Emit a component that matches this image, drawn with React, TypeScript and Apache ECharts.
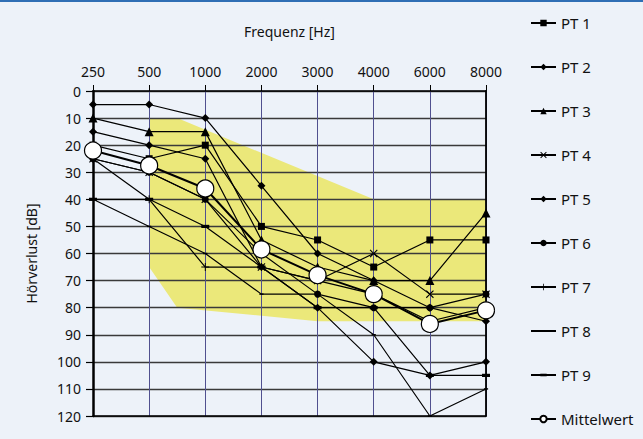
import React, { useEffect, useRef } from "react";
import * as echarts from "echarts";

const categories = ["250", "500", "1000", "2000", "3000", "4000", "6000", "8000"];

const pt1 = [20, 25, 20, 50, 55, 65, 55, 55];
const pt2 = [5, 5, 10, 35, 60, 70, 80, 85];
const pt3 = [10, 15, 15, 55, 65, 70, 70, 45];
const pt4 = [25, 30, 40, 65, 70, 60, 75, 75];
const pt5 = [15, 20, 25, 65, 80, 100, 105, 100];
const pt6 = [25, 30, 40, 60, 75, 80, 80, 75];
const pt7 = [25, 40, 65, 65, 70, 75, 85, 80];
const pt8 = [40, 50, 60, 75, 75, 90, 120, 110];
const pt9 = [40, 40, 50, 65, 80, 80, 105, 105];
const mittelwert = [22, 27.5, 36, 58.5, 68, 75, 86, 81];

// yellow range polygon (x = category index, y = dB)
const yellowTop = [[1, 10], [1.5, 10], [5, 40], [7, 40]];
const yellowBottom = [[7, 85], [4, 85], [1.5, 80], [1, 65]];

const crossPath = "path://M0,1L1,0L5,4L9,0L10,1L6,5L10,9L9,10L5,6L1,10L0,9L4,5Z";
const plusPath = "path://M4.4,0H5.6V4.4H10V5.6H5.6V10H4.4V5.6H0V4.4H4.4Z";
// square bounding box (extra moveTo points) so the dash keeps its shape in the legend too
const smallDash = "path://M0,0M10,10M1.5,3.8H8.5V6.2H1.5Z";
const thickDash = "path://M0,0M10,10M0,3H10V7H0Z";

const toPairs = (vals: number[]) => vals.map((v, i) => [i, v]);

const FONT = "'Noto Sans', 'Open Sans', sans-serif";

export default function App() {
  const ref = useRef<HTMLDivElement>(null);
  useEffect(() => {
    if (!ref.current) return;
    const chart = echarts.init(ref.current, undefined, { renderer: "svg" });

    const pts = [
      { name: "PT 1", data: pt1, symbol: "rect", symbolSize: 7 },
      { name: "PT 2", data: pt2, symbol: "diamond", symbolSize: 8 },
      { name: "PT 3", data: pt3, symbol: "triangle", symbolSize: 9 },
      { name: "PT 4", data: pt4, symbol: crossPath, symbolSize: 8 },
      { name: "PT 5", data: pt5, symbol: "diamond", symbolSize: 8 },
      { name: "PT 6", data: pt6, symbol: "circle", symbolSize: 7 },
      { name: "PT 7", data: pt7, symbol: plusPath, symbolSize: 8 },
      { name: "PT 8", data: pt8, symbol: smallDash, symbolSize: 6 },
      { name: "PT 9", data: pt9, symbol: thickDash, symbolSize: 8 },
    ];

    const lineSeries = pts.map((p) => ({
      type: "line",
      name: p.name,
      data: toPairs(p.data),
      symbol: p.symbol,
      symbolSize: p.symbolSize,
      showSymbol: true,
      lineStyle: { color: "#000", width: 1.2 },
      itemStyle: { color: "#000" },
      z: 3,
    }));

    const option: any = {
      animation: false,
      backgroundColor: "#edf2f9",
      textStyle: { fontFamily: FONT },
      graphic: [
        { type: "rect", shape: { x: 0, y: 0, width: 643, height: 2 }, style: { fill: "#2f6fb5" } },
      ],
      grid: { left: 93, right: 157, top: 91, bottom: 23, outerBoundsMode: "none", containLabel: false },
      legend: {
        orient: "vertical",
        left: 525,
        top: 10,
        itemWidth: 25,
        itemHeight: 8,
        itemGap: 28,
        textStyle: { fontFamily: FONT, fontSize: 15, color: "#111", lineHeight: 16 },
        data: [...pts.map((p) => p.name), "Mittelwert"],
      },
      xAxis: [
        {
          type: "value",
          position: "top",
          min: 0,
          max: 7,
          interval: 1,
          name: "Frequenz [Hz]",
          nameLocation: "middle",
          nameGap: 53,
          nameTextStyle: { fontFamily: FONT, fontSize: 14, color: "#111" },
          axisLine: { show: true, lineStyle: { color: "#000", width: 1.5 } },
          axisTick: { show: true, length: 6, lineStyle: { color: "#000", width: 1 } },
          axisLabel: {
            formatter: (v: number) => categories[v] ?? "",
            fontFamily: FONT,
            fontSize: 14,
            color: "#111",
            margin: 13,
          },
          splitLine: { show: true, lineStyle: { color: "#50508f", width: 1 } },
        },
        {
          type: "value",
          position: "bottom",
          min: 0,
          max: 7,
          interval: 1,
          axisLine: { show: true, onZero: false, lineStyle: { color: "#000", width: 1.5 } },
          axisTick: { show: false },
          axisLabel: { show: false },
          splitLine: { show: false },
        },
      ],
      yAxis: [
        {
          type: "value",
          inverse: true,
          min: 0,
          max: 120,
          interval: 10,
          name: "Hörverlust [dB]",
          nameLocation: "middle",
          nameGap: 55,
          nameRotate: 90,
          nameTextStyle: { fontFamily: FONT, fontSize: 14, color: "#111" },
          axisLine: { show: true, lineStyle: { color: "#000", width: 2.5 } },
          axisTick: { show: true, length: 7, lineStyle: { color: "#000", width: 1.2 } },
          axisLabel: { fontFamily: FONT, fontSize: 14, color: "#111", margin: 12 },
          splitLine: { show: true, lineStyle: { color: "#3a3a3a", width: 1.4 } },
        },
        {
          type: "value",
          position: "right",
          inverse: true,
          min: 0,
          max: 120,
          interval: 10,
          axisLine: { show: true, onZero: false, lineStyle: { color: "#000", width: 1.8 } },
          axisTick: { show: false },
          axisLabel: { show: false },
          splitLine: { show: false },
        },
      ],
      series: [
        {
          type: "custom",
          name: "Bereich",
          silent: true,
          z: -1,
          data: [[0, 0]],
          renderItem: (_params: any, api: any) => ({
            type: "polygon",
            shape: { points: [...yellowTop, ...yellowBottom].map((p) => api.coord(p)) },
            style: { fill: "#ebe87a" },
          }),
        },
        ...lineSeries,
        {
          type: "line",
          name: "Mittelwert",
          data: toPairs(mittelwert),
          symbol: "circle",
          symbolSize: 17,
          lineStyle: { color: "#000", width: 2 },
          itemStyle: { color: "#fff", borderColor: "#000", borderWidth: 1.2 },
          z: 5,
        },
      ],
    };
    chart.setOption(option);
    return () => chart.dispose();
  }, []);
  return (
    <div
      ref={ref}
      style={{ position: "fixed", left: 0, top: 0, width: 643, height: 439, background: "#edf2f9" }}
    />
  );
}
